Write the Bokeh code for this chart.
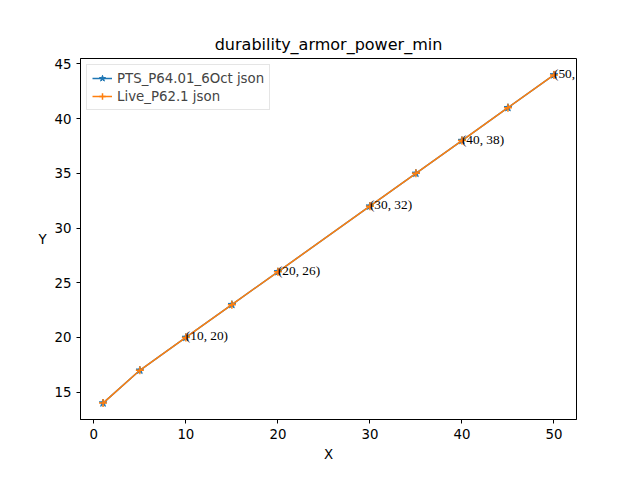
from bokeh.plotting import figure
from bokeh.embed import file_html
from bokeh.resources import INLINE
from bokeh.models import Range1d, Legend, LegendItem, FixedTicker, LabelSet, ColumnDataSource

x = [1, 5, 10, 15, 20, 30, 35, 40, 45, 50]
pts = [14, 17, 20, 23, 26, 32, 35, 38, 41, 44]
live = [14, 17, 20, 23, 26, 32, 35, 38, 41, 44]
lab_x = [10, 20, 30, 40, 50]
lab_y = [20, 26, 32, 38, 44]
labels = ["(%d, %d)" % (a, b) for a, b in zip(lab_x, lab_y)]

p = figure(width=624, height=464, output_backend="svg", toolbar_location=None,
           x_range=Range1d(-1.45, 52.45), y_range=Range1d(12.5, 45.5),
           title="durability_armor_power_min",
           min_border_left=80, min_border_right=48, min_border_top=58, min_border_bottom=37)
p.title.align = "center"
p.title.text_font_style = "normal"
p.title.text_font_size = "12pt"
p.title.text_font = "DejaVu Sans"
p.title.text_color = "black"
p.xgrid.visible = False
p.ygrid.visible = False
p.outline_line_color = "black"
p.xaxis.ticker = FixedTicker(ticks=[0, 10, 20, 30, 40, 50])
p.yaxis.ticker = FixedTicker(ticks=[15, 20, 25, 30, 35, 40, 45])
p.xaxis.axis_label = "X"
p.yaxis.axis_label = "Y"
p.yaxis.axis_label_orientation = "horizontal"
for ax in (p.xaxis[0], p.yaxis[0]):
    ax.minor_tick_line_color = None
    ax.major_label_text_font_size = "10pt"
    ax.axis_label_text_font_size = "10pt"
    ax.axis_label_text_font_style = "normal"
    ax.major_label_text_font = "DejaVu Sans"
    ax.axis_label_text_font = "DejaVu Sans"
    ax.major_label_text_color = "black"
    ax.axis_label_text_color = "black"
    ax.axis_line_color = "black"
    ax.major_tick_line_color = "black"
    ax.major_tick_in = 0
    ax.major_tick_out = 4

l1 = p.line(x, pts, color="#1f77b4", line_width=1.5)
m1 = p.scatter(x, pts, marker="star", size=8, color="#1f77b4")
l2 = p.line(x, live, color="#ff7f0e", line_width=1.5)
m2 = p.scatter(x, live, marker="cross", size=8, color="#ff7f0e", line_width=1.5)
src = ColumnDataSource(dict(x=lab_x, y=lab_y, t=labels))
p.add_layout(LabelSet(x="x", y="y", text="t", source=src, text_font="DejaVu Sans",
                      text_font_size="10pt", text_baseline="bottom", text_align="left",
                      y_offset=-6, text_color="black"))

leg = Legend(items=[LegendItem(label="PTS_P64.01_6Oct json", renderers=[l1, m1]),
                    LegendItem(label="Live_P62.1 json", renderers=[l2, m2])],
             location="top_left", label_text_font_size="10pt", label_text_font="DejaVu Sans",
             border_line_color="#cccccc", spacing=2, padding=5, margin=6,
             label_height=16, glyph_height=16)
p.add_layout(leg)

open("out.html", "w").write(file_html(p, INLINE))
